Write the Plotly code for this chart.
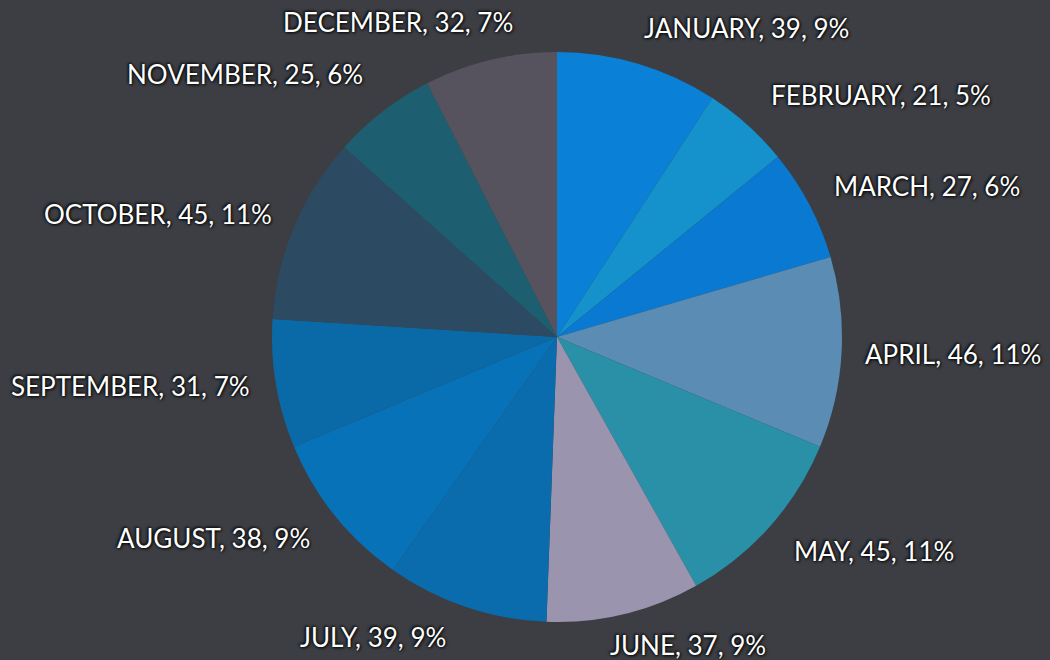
import plotly.graph_objects as go

months = ["JANUARY", "FEBRUARY", "MARCH", "APRIL", "MAY", "JUNE",
          "JULY", "AUGUST", "SEPTEMBER", "OCTOBER", "NOVEMBER", "DECEMBER"]
values = [39, 21, 27, 46, 45, 37, 39, 38, 31, 45, 25, 32]
percent_labels = [9, 5, 6, 11, 11, 9, 9, 9, 7, 11, 6, 7]
colors = ["#0a80d6", "#1592cc", "#0a79d2", "#5b8cb4", "#2a90a8", "#9a94ae",
          "#0a6cac", "#0872b8", "#0a6aa8", "#2d4a63", "#1d5f70", "#56535f"]

# label anchor positions in pixels (x, y from top) for the outside labels
label_pos = {
    "JANUARY": (746, 28), "FEBRUARY": (881, 95), "MARCH": (927, 186),
    "APRIL": (953, 354), "MAY": (874, 551), "JUNE": (688, 645),
    "JULY": (373, 637), "AUGUST": (213, 538), "SEPTEMBER": (130, 386),
    "OCTOBER": (158, 214), "NOVEMBER": (245, 74), "DECEMBER": (398, 22),
}

W, H = 1050, 660
cx, cy, r = 557, 337, 285

fig = go.Figure(go.Pie(
    labels=months, values=values, sort=False, direction="clockwise", rotation=0,
    marker=dict(colors=colors, line=dict(width=0)),
    textinfo="none", hoverinfo="label+value+percent", showlegend=False,
    domain=dict(x=[(cx - r) / W, (cx + r) / W], y=[(H - cy - r) / H, (H - cy + r) / H]),
))

annotations = []
for m, v, p in zip(months, values, percent_labels):
    px, py = label_pos[m]
    annotations.append(dict(
        x=px / W, y=1 - py / H, xref="paper", yref="paper",
        text=f"{m}, {v}, {p}%", showarrow=False, xanchor="center", yanchor="middle",
        font=dict(family="Lato, Open Sans, sans-serif", size=26, color="white",
                  shadow="1px 1px 3px #000000, -1px -1px 3px #000000"),
    ))

fig.update_layout(
    width=W, height=H, margin=dict(l=0, r=0, t=0, b=0),
    paper_bgcolor="#3c3e43", plot_bgcolor="#3c3e43",
    annotations=annotations,
)
fig.write_html(
    "out.html",
    config={"displayModeBar": False},
    post_script="document.body.style.margin='0';document.body.style.background='#3c3e43';",
)
